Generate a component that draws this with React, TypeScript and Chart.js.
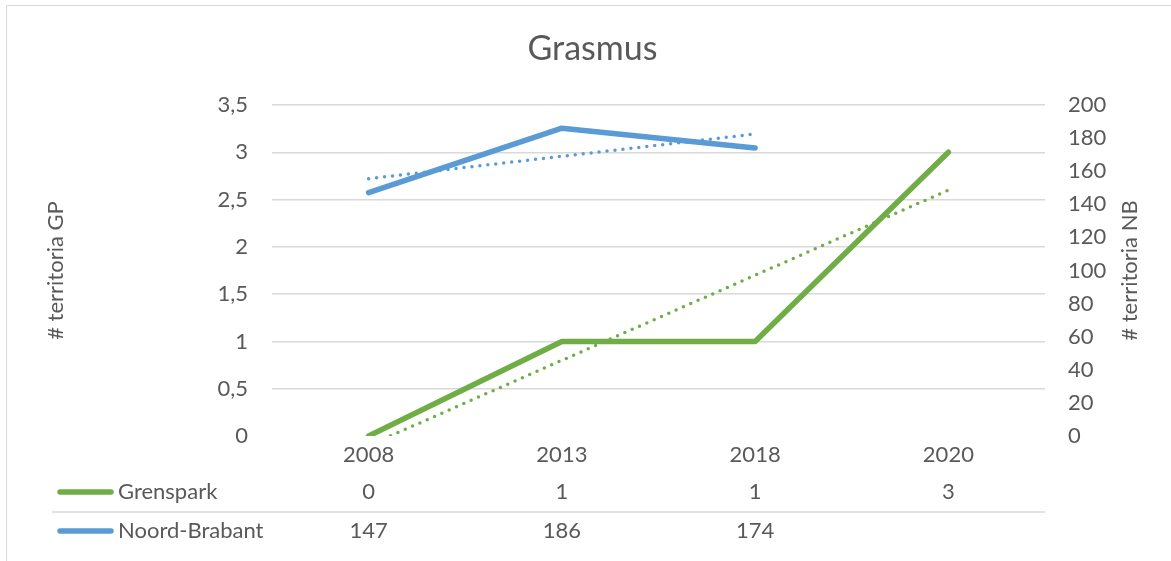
import React, { useEffect, useRef } from "react";
import { Chart, registerables } from "chart.js";

Chart.register(...registerables);

// ---- data ----
const categories = ["2008", "2013", "2018", "2020"];
const grenspark: (number | null)[] = [0, 1, 1, 3];
const noordBrabant: (number | null)[] = [147, 186, 174, null];
const grensparkTrend: (number | null)[] = [-0.1, 0.8, 1.7, 2.6];
const noordBrabantTrend: (number | null)[] = [155.5, 169, 182.5, null];
const seriesNames = ["Grenspark", "Noord-Brabant"];
const chartTitle = "Grasmus";
const leftAxisTitle = "# territoria GP";
const rightAxisTitle = "# territoria NB";

// ---- styles ----
const FONT = "Lato, 'Open Sans', sans-serif";
const TEXT = "#595959";
const GRID = "#d9d9d9";
const GREEN = "#70ad47";
const BLUE = "#5b9bd5";
const W = 1171;
const H = 561;
const PAD_LEFT = 14;
const LEFT = 272;
const RIGHT = 1045;
const TOP = 105;
const BOTTOM = 436;
const TITLE_SIZE = 34;
const TITLE_PAD_TOP = 29;

const extrasPlugin = {
  id: "excelExtras",
  beforeDraw(chart: any) {
    const ctx = chart.ctx;
    ctx.save();
    ctx.strokeStyle = GRID;
    ctx.lineWidth = 1;
    ctx.beginPath();
    ctx.moveTo(6.5, H);
    ctx.lineTo(6.5, 5.5);
    ctx.lineTo(W, 5.5);
    ctx.stroke();
    ctx.restore();
  },
  afterDraw(chart: any) {
    const ctx = chart.ctx;
    const area = chart.chartArea;
    const xs = chart.scales.x;
    const midY = (area.top + area.bottom) / 2;
    ctx.save();
    ctx.fillStyle = TEXT;
    ctx.font = `22px ${FONT}`;
    ctx.textAlign = "center";
    ctx.textBaseline = "middle";
    // axis titles (both read bottom-to-top)
    [
      { text: leftAxisTitle, x: 56 },
      { text: rightAxisTitle, x: 1130 },
    ].forEach((t) => {
      ctx.save();
      ctx.translate(t.x, midY);
      ctx.rotate(-Math.PI / 2);
      ctx.fillText(t.text, 0, 0);
      ctx.restore();
    });

    // data table
    const rows = [
      { label: seriesNames[0], color: GREEN, values: grenspark, y: area.bottom + 56 },
      { label: seriesNames[1], color: BLUE, values: noordBrabant, y: area.bottom + 95 },
    ];
    ctx.strokeStyle = GRID;
    ctx.lineWidth = 1.5;
    ctx.beginPath();
    ctx.moveTo(52, area.bottom + 76);
    ctx.lineTo(area.right, area.bottom + 76);
    ctx.stroke();

    rows.forEach((r) => {
      ctx.strokeStyle = r.color;
      ctx.lineWidth = 5.5;
      ctx.lineCap = "round";
      ctx.beginPath();
      ctx.moveTo(60, r.y);
      ctx.lineTo(111, r.y);
      ctx.stroke();
      ctx.fillStyle = TEXT;
      ctx.textAlign = "left";
      ctx.fillText(r.label, 118, r.y);
      ctx.textAlign = "center";
      r.values.forEach((v, i) => {
        if (v === null || v === undefined) return;
        ctx.fillText(String(v).replace(".", ","), xs.getPixelForValue(i), r.y);
      });
    });
    ctx.restore();
  },
};

export default function App() {
  const ref = useRef<HTMLCanvasElement | null>(null);

  useEffect(() => {
    document.body.style.margin = "0";
    const canvas = ref.current;
    if (!canvas) return;
    const chart = new Chart(canvas, {
      type: "line",
      data: {
        labels: categories,
        datasets: [
          {
            label: seriesNames[0],
            data: grenspark,
            yAxisID: "y",
            borderColor: GREEN,
            backgroundColor: GREEN,
            borderWidth: 5.5,
            borderCapStyle: "round",
            borderJoinStyle: "round",
            pointRadius: 0,
            tension: 0,
          },
          {
            label: seriesNames[1],
            data: noordBrabant,
            yAxisID: "y1",
            borderColor: BLUE,
            backgroundColor: BLUE,
            borderWidth: 5.5,
            borderCapStyle: "round",
            borderJoinStyle: "round",
            pointRadius: 0,
            tension: 0,
          },
          {
            label: "trend " + seriesNames[0],
            data: grensparkTrend,
            yAxisID: "y",
            borderColor: GREEN,
            borderWidth: 3.5,
            borderDash: [0, 8],
            borderCapStyle: "round",
            pointRadius: 0,
            clip: 0,
          },
          {
            label: "trend " + seriesNames[1],
            data: noordBrabantTrend,
            yAxisID: "y1",
            borderColor: BLUE,
            borderWidth: 3.5,
            borderDash: [0, 8],
            borderCapStyle: "round",
            pointRadius: 0,
          },
        ],
      } as any,
      options: {
        animation: false,
        responsive: false,
        devicePixelRatio: 1,
        layout: { padding: { left: PAD_LEFT, right: 0, top: 0, bottom: 0 } },
        plugins: {
          legend: { display: false },
          tooltip: { enabled: false },
          title: {
            display: true,
            text: chartTitle,
            color: TEXT,
            font: { family: FONT, size: TITLE_SIZE, weight: "normal" },
            padding: { top: TITLE_PAD_TOP, bottom: TOP - TITLE_PAD_TOP - TITLE_SIZE * 1.2 },
          },
        },
        scales: {
          x: {
            offset: true,
            grid: { display: false },
            border: { display: false },
            ticks: { color: TEXT, font: { family: FONT, size: 22 }, padding: -2, maxRotation: 0 },
            afterFit: (s: any) => {
              s.height = H - BOTTOM;
            },
          },
          y: {
            position: "left",
            min: 0,
            max: 3.5,
            border: { display: false },
            grid: {
              drawTicks: false,
              color: (c: any) => (c.tick && c.tick.value === 0 ? "rgba(0,0,0,0)" : GRID),
              lineWidth: 1.5,
            },
            ticks: {
              stepSize: 0.5,
              color: TEXT,
              padding: 24,
              font: { family: FONT, size: 22 },
              callback: (v: any) => String(v).replace(".", ","),
            },
            afterFit: (s: any) => {
              s.width = LEFT - PAD_LEFT;
            },
          },
          y1: {
            position: "right",
            min: 0,
            max: 200,
            border: { display: false },
            grid: { display: false, drawTicks: false },
            ticks: {
              stepSize: 20,
              color: TEXT,
              padding: 23,
              font: { family: FONT, size: 22 },
            },
            afterFit: (s: any) => {
              s.width = W - RIGHT;
            },
          },
        },
      } as any,
      plugins: [extrasPlugin],
    });
    return () => chart.destroy();
  }, []);

  return (
    <div style={{ width: W, height: H, background: "#fff" }}>
      <canvas ref={ref} width={W} height={H} style={{ display: "block" }} />
    </div>
  );
}
